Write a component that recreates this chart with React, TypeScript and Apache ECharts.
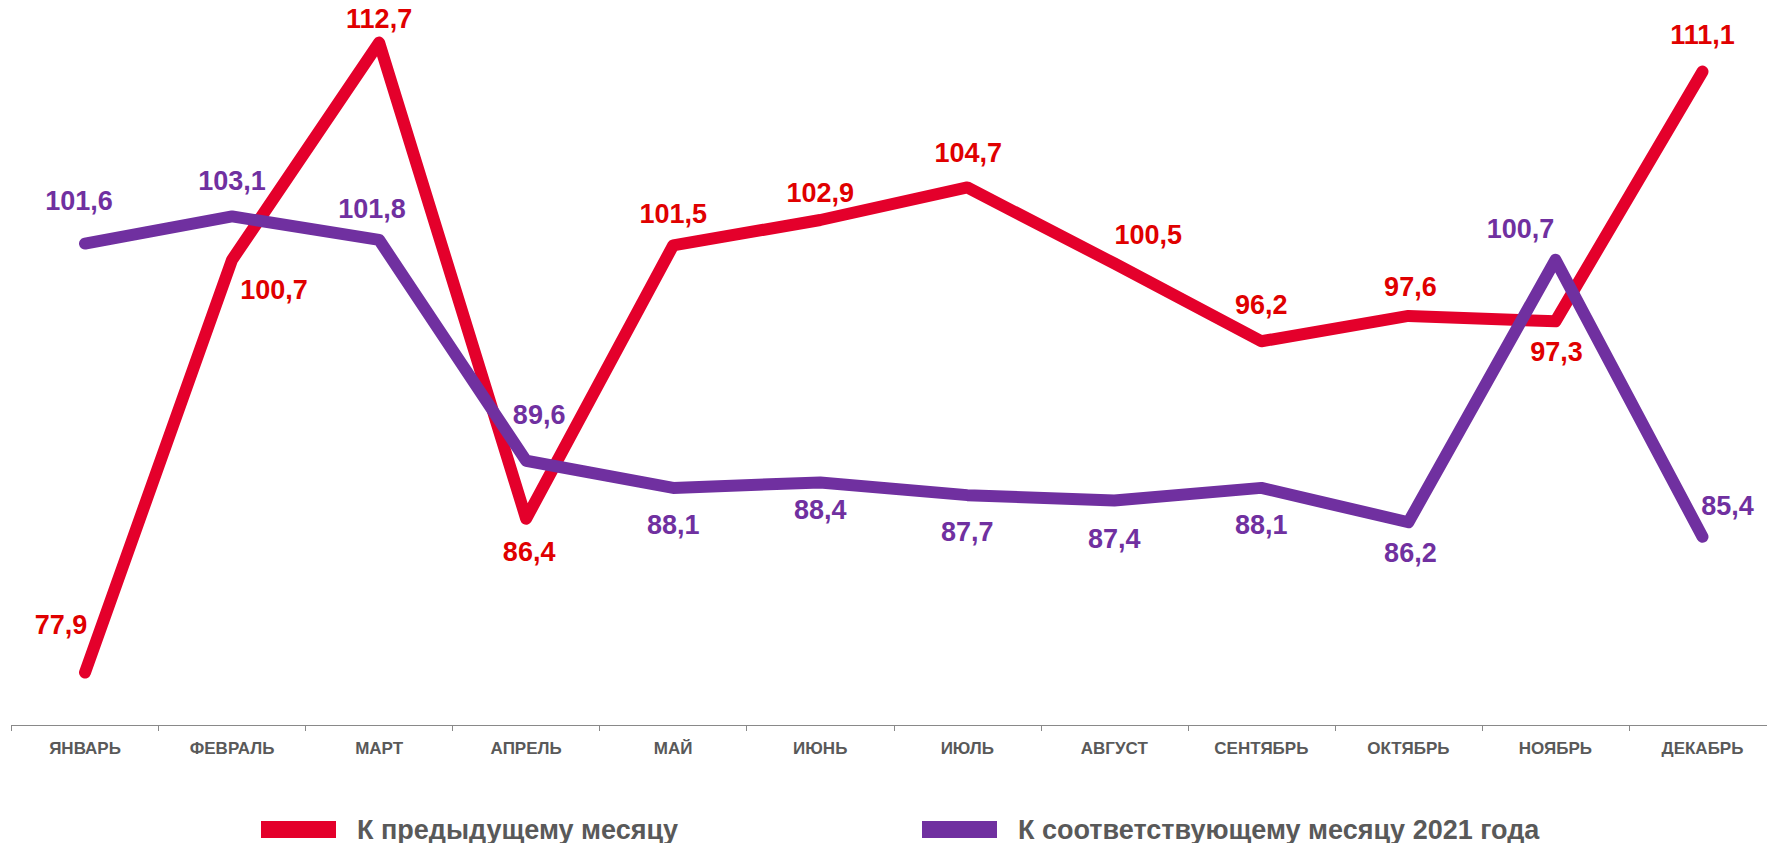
import React, { useEffect, useRef } from "react";
import * as echarts from "echarts";

const months = ["ЯНВАРЬ", "ФЕВРАЛЬ", "МАРТ", "АПРЕЛЬ", "МАЙ", "ИЮНЬ", "ИЮЛЬ", "АВГУСТ", "СЕНТЯБРЬ", "ОКТЯБРЬ", "НОЯБРЬ", "ДЕКАБРЬ"];
const seriesNames = ["К предыдущему месяцу", "К соответствующему месяцу 2021 года"];
const prevMonth = [77.9, 100.7, 112.7, 86.4, 101.5, 102.9, 104.7, 100.5, 96.2, 97.6, 97.3, 111.1];
const sameMonth2021 = [101.6, 103.1, 101.8, 89.6, 88.1, 88.4, 87.7, 87.4, 88.1, 86.2, 100.7, 85.4];

// label offsets (layout only)
const prevOffsets: [number, number][] = [
  [-24, -48], [42, 30], [0, -24], [3, 33], [0, -31], [0, -27], [1, -34], [34, -28], [0, -36], [2, -29], [1, 31], [0, -37],
];
const sameOffsets: [number, number][] = [
  [-6, -43], [0, -35], [-7, -31], [13, -46], [0, 37], [0, 28], [0, 37], [0, 38], [0, 37], [2, 31], [-35, -31], [25, -31],
];

const RED = "#E4002B";
const RED_TEXT = "#E00000";
const PURPLE = "#7030A0";
const GRAY = "#595959";
const FONT = "'Liberation Sans', Arial, sans-serif";

const fmt = (v: number) => v.toFixed(1).replace(".", ",");

export default function App() {
  const ref = useRef<HTMLDivElement>(null);
  useEffect(() => {
    if (!ref.current) return;
    const chart = echarts.init(ref.current, undefined, { renderer: "svg" });
    const mk = (vals: number[], offs: [number, number][]) =>
      vals.map((v, i) => ({
        value: v,
        label: { offset: offs[i] },
      }));
    const legendText = {
      fontFamily: FONT,
      fontWeight: "bold",
      fontSize: 27,
      lineHeight: 24,
      color: GRAY,
      padding: [0, 0, 0, 16],
    };
    chart.setOption({
      animation: false,
      grid: { left: 11.5, right: 0, top: 1, bottom: 118, containLabel: false },
      legend: [
        {
          left: 256,
          top: 811,
          data: [seriesNames[0]],
          icon: "rect",
          itemWidth: 75,
          itemHeight: 17,
          textStyle: legendText,
          selectedMode: false,
        },
        {
          left: 917,
          top: 811,
          data: [seriesNames[1]],
          icon: "rect",
          itemWidth: 75,
          itemHeight: 17,
          textStyle: legendText,
          selectedMode: false,
        },
      ],
      xAxis: {
        type: "category",
        data: months,
        boundaryGap: true,
        axisLine: { lineStyle: { color: "#898989", width: 1 } },
        axisTick: { show: true, length: 6, lineStyle: { color: "#898989" } },
        axisLabel: { interval: 0, margin: 15, fontFamily: FONT, fontWeight: "bold", fontSize: 17, color: GRAY },
        splitLine: { show: false },
      },
      yAxis: {
        type: "value",
        min: 75,
        max: 115,
        show: false,
        splitLine: { show: false },
      },
      series: [
        {
          name: seriesNames[0],
          type: "line",
          data: mk(prevMonth, prevOffsets),
          symbol: "circle",
          symbolSize: 1,
          showSymbol: true,
          itemStyle: { color: RED },
          lineStyle: { color: RED, width: 12, cap: "round", join: "round" },
          label: {
            show: true,
            position: "inside",
            formatter: (p: any) => fmt(p.value),
            fontFamily: FONT,
            fontWeight: "bold",
            fontSize: 27,
            color: RED_TEXT,
          },
          z: 2,
        },
        {
          name: seriesNames[1],
          type: "line",
          data: mk(sameMonth2021, sameOffsets),
          symbol: "circle",
          symbolSize: 1,
          showSymbol: true,
          itemStyle: { color: PURPLE },
          lineStyle: { color: PURPLE, width: 12, cap: "round", join: "round" },
          label: {
            show: true,
            position: "inside",
            formatter: (p: any) => fmt(p.value),
            fontFamily: FONT,
            fontWeight: "bold",
            fontSize: 27,
            color: PURPLE,
          },
          z: 3,
        },
      ],
    });
    return () => chart.dispose();
  }, []);
  return (
    <div style={{ position: "absolute", left: 0, top: 0, width: 1767, height: 843, overflow: "hidden", background: "#fff" }}>
      <div ref={ref} style={{ position: "absolute", left: 0, top: 0, width: 1775.5, height: 843 }} />
    </div>
  );
}
